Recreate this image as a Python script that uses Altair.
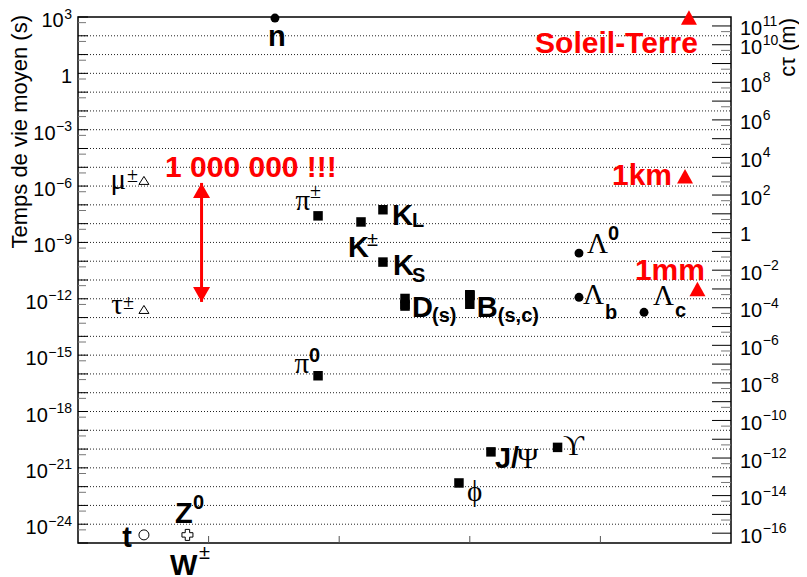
import altair as alt
import pandas as pd

# ---------------- data ----------------
particles = ["n", "mu", "tau", "pi+-", "K+-", "K_L", "K_S",
             "D+", "D0", "Ds", "B+", "B0", "Bs", "Bc",
             "pi0", "J/psi", "Upsilon", "phi",
             "Lambda0", "Lambda_b", "Lambda_c", "t", "Z/W"]
slots = [1.508, 0.505, 0.505, 1.838, 2.167, 2.335, 2.335,
         2.504, 2.504, 2.504, 3.0, 3.0, 3.0, 3.0,
         1.838, 3.162, 3.672, 2.917,
         3.836, 3.836, 4.334, 0.505, 0.838]
lifetimes = [880, 2.0e-6, 2.7e-13, 2.6e-8, 1.23e-8, 5.5e-8, 9.0e-11,
             1.04e-12, 4.1e-13, 5.0e-13, 1.64e-12, 1.52e-12, 1.5e-12, 5.1e-13,
             8.0e-17, 7.1e-21, 1.23e-20, 1.57e-22,
             2.7e-10, 1.2e-12, 1.9e-13, 2.7e-25, 2.7e-25]
markers = ["dot", "tri", "tri", "sq", "sq", "sq", "sq",
           "sq", "sq", "sq", "sq", "sq", "sq", "sq",
           "sq", "sq", "sq", "sq",
           "dot", "dot", "dot", "ocirc", "ocross"]

ref_names = ["Soleil-Terre", "1km", "1mm"]
ref_slots = [4.678, 4.648, 4.743]
ref_ctau = [2.8e11, 1e3, 1e-3]          # metres

arrow_slot = 0.946
arrow_tau = [1.47e-6, 6.8e-13]
arrow_text = "1 000 000 !!!"

C_LIGHT = 3e8
tau_decades = list(range(-25, 4))
ctau_decades = list(range(-16, 12))
left_label_exps = [3, 0, -3, -6, -9, -12, -15, -18, -21, -24]
right_label_exps = [11, 10, 8, 6, 4, 2, 0, -2, -4, -6, -8, -10, -12, -14, -16]
x_ticks = [1, 2, 3, 4]
left_title = "Temps de vie moyen (s)"
right_title = "cτ (m)"

W, H = 653, 526
SANS = "Liberation Sans"
SERIF = "Liberation Serif"
BIG, SMALL, RED_SIZE = 29, 20, 30
LAB, EXP = 20, 14

xs = alt.Scale(domain=[0, 5], nice=False, zero=False)
ys = alt.Scale(type="log", domain=[1e-25, 1e3], nice=False)


def X():
    return alt.X("x:Q", scale=xs, axis=None)


def Y(field="y:Q"):
    return alt.Y(field, scale=ys, axis=None)


pdf = pd.DataFrame({"name": particles, "x": slots, "y": lifetimes, "m": markers})
idx = {n: i for i, n in enumerate(particles)}
ridx = {n: i for i, n in enumerate(ref_names)}


def exp_str(e):
    return str(e).replace("-", "\u2212")


def exp_width(e):
    return sum(0.584 if c == "\u2212" else 0.556 for c in exp_str(e)) * EXP


def frame_text(values, texts, dx, dy, size, align):
    d = pd.DataFrame({"v": values, "t": texts})
    return alt.Chart(d).mark_text(
        align=align, baseline="alphabetic", font=SANS, fontSize=size,
        color="black", dx=dx, dy=dy).encode(
        x=alt.value(0) if align == "right" else alt.value(W), y=Y("v:Q"), text="t:N")


# ---------------- frame: grid, ticks, axis labels, titles ----------------
grid_df = pd.DataFrame({"v": [10.0 ** e for e in tau_decades[1:-1]]})
grid = alt.Chart(grid_df).mark_rule(color="#222222", strokeWidth=1, strokeDash=[1, 2]).encode(
    x=alt.value(0), x2=alt.value(W), y=Y("v:Q"))

left_major = alt.Chart(pd.DataFrame({"v": [10.0 ** e for e in tau_decades]})).mark_rule(
    color="black", strokeWidth=1).encode(x=alt.value(0), x2=alt.value(10), y=Y("v:Q"))
left_minor = alt.Chart(pd.DataFrame({"v": [5 * 10.0 ** e for e in tau_decades[:-1]]})).mark_rule(
    color="#777777", strokeWidth=1).encode(x=alt.value(0), x2=alt.value(8), y=Y("v:Q"))

# right axis: c*tau decades placed on the lifetime scale (tau = c*tau / c)
rt_major = alt.Chart(pd.DataFrame({"v": [10.0 ** e / C_LIGHT for e in ctau_decades]})).mark_rule(
    color="black", strokeWidth=1).encode(x=alt.value(W - 19), x2=alt.value(W), y=Y("v:Q"))
rt_minor = alt.Chart(pd.DataFrame({"v": [5 * 10.0 ** e / C_LIGHT for e in ctau_decades[:-1]]})).mark_rule(
    color="#777777", strokeWidth=1).encode(x=alt.value(W - 10), x2=alt.value(W), y=Y("v:Q"))

bottom_ticks = alt.Chart(pd.DataFrame({"x": x_ticks})).mark_rule(color="#555555", strokeWidth=1).encode(
    x=X(), y=alt.value(H), y2=alt.value(H - 7))

# left labels: "10" + raised exponent, right-aligned as a whole
label_layers = []
for e in left_label_exps:
    v = [10.0 ** e]
    if e == 0:
        label_layers.append(frame_text(v, ["1"], -6, 9.5, LAB, "right"))
    else:
        label_layers.append(frame_text(v, [exp_str(e)], -6, 1.5, EXP, "right"))
        label_layers.append(frame_text(v, ["10"], -6 - exp_width(e) - 0.5, 10, LAB, "right"))

# right labels: left-aligned
r_exps = [e for e in right_label_exps if e != 0]
r_vals = [10.0 ** e / C_LIGHT for e in r_exps]
label_layers.append(frame_text(r_vals, ["10"] * len(r_exps), 9, 9.5, LAB, "left"))
label_layers.append(frame_text(r_vals, [exp_str(e) for e in r_exps], 9 + 1.112 * LAB + 0.5, 0, EXP, "left"))
label_layers.append(frame_text([1.0 / C_LIGHT], ["1"], 9, 8, LAB, "left"))

titles = alt.Chart(pd.DataFrame({"t": [left_title]})).mark_text(
    angle=270, align="right", baseline="middle", font=SANS, fontSize=22, color="black").encode(
    x=alt.value(-58), y=alt.value(-2), text="t:N")
titles_r = alt.Chart(pd.DataFrame({"t": [right_title]})).mark_text(
    angle=270, align="right", baseline="middle", font=SANS, fontSize=22, color="black").encode(
    x=alt.value(W + 57), y=alt.value(1), text="t:N")

# ---------------- markers ----------------
def pts(kind):
    return alt.Chart(pdf[pdf.m == kind])


TRI_OPEN = "M0,-0.8L1,0.8L-1,0.8Z"
RED_TRI = "M0,-0.9L1,0.9L-1,0.9Z"
HEAD_UP = "M0,0L-1,1.76L1,1.76Z"
HEAD_DN = "M0,0L-1,-1.76L1,-1.76Z"

sq = pts("sq").mark_point(shape="square", filled=True, size=90, color="black", opacity=1).encode(x=X(), y=Y())
dot = pts("dot").mark_point(shape="circle", filled=True, size=80, color="black", opacity=1).encode(x=X(), y=Y())
tri = pts("tri").mark_point(shape=TRI_OPEN, filled=False, size=100, color="black", strokeWidth=1, opacity=1).encode(x=X(), y=Y())
ocirc = pts("ocirc").mark_point(shape="circle", filled=False, size=100, color="black", strokeWidth=1, opacity=1).encode(x=X(), y=Y())
ocross = pts("ocross").mark_point(shape="cross", filled=False, size=121, color="black", strokeWidth=1, opacity=1).encode(x=X(), y=Y())

ref_df = pd.DataFrame({"x": ref_slots, "y": [c / C_LIGHT for c in ref_ctau], "name": ref_names})
red_tri = alt.Chart(ref_df).mark_point(shape=RED_TRI, filled=True, size=256, color="red", opacity=1).encode(
    x=X(), y=Y())

# ---------------- red arrow ----------------
arrow_df = pd.DataFrame({"x": [arrow_slot], "y": [arrow_tau[0]], "y2": [arrow_tau[1]]})
arrow_line = alt.Chart(arrow_df).mark_rule(color="red", strokeWidth=3).encode(
    x=X(), y=Y(), y2="y2:Q")
head_top = alt.Chart(pd.DataFrame({"x": [arrow_slot], "y": [arrow_tau[0]]})).mark_point(
    shape=HEAD_UP, filled=True, size=289, color="red", opacity=1).encode(x=X(), y=Y())
head_bot = alt.Chart(pd.DataFrame({"x": [arrow_slot], "y": [arrow_tau[1]]})).mark_point(
    shape=HEAD_DN, filled=True, size=289, color="red", opacity=1).encode(x=X(), y=Y())

# ---------------- text annotations ----------------
# anchor, text, dx, dy, size, family, bold, align
annotations = [
    ("n", "n", 2, 28, BIG, SANS, True, "center"),
    ("mu", "μ", -18, 9, BIG, SERIF, False, "right"),
    ("mu", "±", -17, 2, SMALL, SERIF, False, "left"),
    ("tau", "τ", -21, 5, BIG, SERIF, False, "right"),
    ("tau", "±", -21, 0, SMALL, SERIF, False, "left"),
    ("pi+-", "π", -8, -6, BIG, SERIF, False, "right"),
    ("pi+-", "±", -8, -18, SMALL, SERIF, False, "left"),
    ("K+-", "K", -13, 35, BIG, SANS, True, "left"),
    ("K+-", "±", 6, 24, SMALL, SANS, False, "left"),
    ("K_L", "K", 9, 15.5, BIG, SANS, True, "left"),
    ("K_L", "L", 29, 17.5, SMALL, SANS, True, "left"),
    ("K_S", "K", 10, 13, BIG, SANS, True, "left"),
    ("K_S", "S", 29, 20, SMALL, SANS, True, "left"),
    ("D+", "D", 7, 18.5, BIG, SANS, True, "left"),
    ("D+", "(s)", 27, 23.5, SMALL, SANS, True, "left"),
    ("B+", "B", 7, 22, BIG, SANS, True, "left"),
    ("B+", "(s,c)", 28, 27, SMALL, SANS, True, "left"),
    ("pi0", "π", -9, -3, BIG, SERIF, False, "right"),
    ("pi0", "0", -9, -14, SMALL, SANS, True, "left"),
    ("J/psi", "J/", 4, 16, BIG, SANS, True, "left"),
    ("J/psi", "Ψ", 26, 16, BIG, SERIF, False, "left"),
    ("Upsilon", "ϒ", 5.5, 7.5, BIG, SERIF, False, "left"),
    ("phi", "ϕ", 8, 18, BIG, SERIF, False, "left"),
    ("Lambda0", "Λ", 8, 0, BIG, SERIF, False, "left"),
    ("Lambda0", "0", 29, -13, SMALL, SANS, True, "left"),
    ("Lambda_b", "Λ", 4, 7, BIG, SERIF, False, "left"),
    ("Lambda_b", "b", 26, 22, SMALL, SANS, True, "left"),
    ("Lambda_c", "Λ", 9, -7.5, BIG, SERIF, False, "left"),
    ("Lambda_c", "c", 31, 4.5, SMALL, SANS, True, "left"),
    ("t", "t", -12, 12, BIG, SANS, True, "right"),
    ("Z/W", "Z", -12.5, -12, BIG, SANS, True, "left"),
    ("Z/W", "0", 5.5, -26, SMALL, SANS, True, "left"),
    ("Z/W", "W", -17.5, 40, BIG, SANS, True, "left"),
    ("Z/W", "±", 11.5, 24, SMALL, SANS, False, "left"),
]


def text_layer(x, y, text, dx, dy, size, family, bold, align, color="black"):
    d = pd.DataFrame({"x": [x], "y": [y], "t": [text]})
    return alt.Chart(d).mark_text(
        dx=dx, dy=dy, fontSize=size, font=family,
        fontWeight="bold" if bold else "normal", align=align,
        baseline="alphabetic", color=color).encode(
        x=X(), y=Y(), text="t:N")


texts = []
for a, t, dx, dy, s, f, b, al in annotations:
    i = idx[a]
    texts.append(text_layer(slots[i], lifetimes[i], t, dx, dy, s, f, b, al))

texts.append(text_layer(arrow_slot, arrow_tau[0], arrow_text, -36.5, -6, RED_SIZE, SANS, True, "left", "red"))

red_specs = [("Soleil-Terre", 9, 35.5), ("1km", -13, 8.7), ("1mm", 7.5, -9)]
for n, dx, dy in red_specs:
    i = ridx[n]
    texts.append(text_layer(ref_slots[i], ref_ctau[i] / C_LIGHT, n, dx, dy, RED_SIZE, SANS, True, "right", "red"))

chart = alt.layer(
    grid, left_major, left_minor, rt_major, rt_minor, bottom_ticks,
    *label_layers, titles, titles_r,
    arrow_line, head_top, head_bot, sq, dot, tri, ocirc, ocross, red_tri, *texts
).properties(
    width=W, height=H,
    padding={"left": 70, "top": 9, "right": 68, "bottom": 32},
    autosize=alt.AutoSizeParams(type="none"),
).configure(background="white").configure_view(stroke="black", strokeWidth=1.5)

chart.save("out.html", embed_options={"renderer": "svg", "actions": False})
